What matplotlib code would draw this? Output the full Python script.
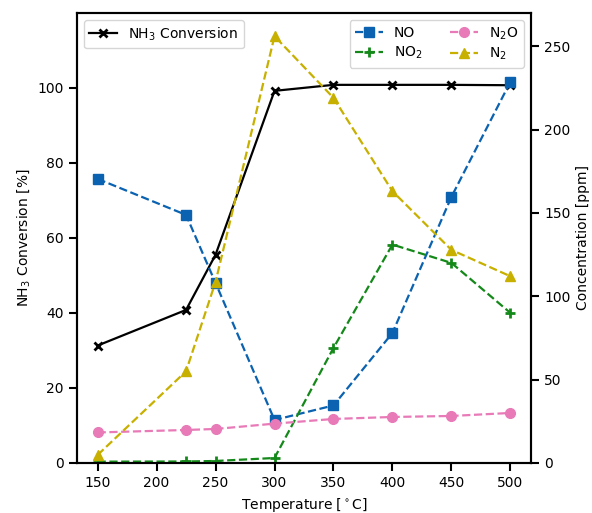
import matplotlib
matplotlib.use("Agg")
import matplotlib.pyplot as plt

temperature = [150, 225, 250, 300, 350, 400, 450, 500]
nh3_conversion = [31.3, 40.8, 55.5, 99.2, 100.8, 100.8, 100.8, 100.7]
no_ppm = [170.4, 148.8, 108.0, 25.8, 34.5, 78.0, 159.6, 228.6]
no2_ppm = [0.8, 0.9, 1.2, 3.0, 69.0, 131.0, 120.0, 90.0]
n2o_ppm = [18.3, 19.8, 20.4, 23.6, 26.4, 27.6, 28.2, 30.0]
n2_ppm = [4.8, 55.0, 108.6, 256.0, 219.0, 163.0, 127.8, 112.0]

plt.rcParams['font.family'] = ['DejaVu Sans']
plt.rcParams['font.size'] = 10

fig = plt.figure(figsize=(5.92, 5.13), dpi=100)
ax = fig.add_axes([0.130, 0.0975, 0.767, 0.8775])
ax2 = ax.twinx()

ax.plot(temperature, nh3_conversion, color='black', marker='x', lw=1.6,
        ms=6, mew=2, label=r'NH$_3$ Conversion')
ax.set_ylim(0, 120)
ax.set_yticks([0, 20, 40, 60, 80, 100])
ax.set_xticks([150, 200, 250, 300, 350, 400, 450, 500])
ax.set_xlabel(r'Temperature [$^\circ$C]', fontsize=10)
ax.set_ylabel(r'NH$_3$ Conversion [%]', fontsize=10)

ax2.plot(temperature, no_ppm, color='#0a62b0', ls='--', marker='s', ms=7, lw=1.6, label='NO')
ax2.plot(temperature, no2_ppm, color='#14891a', ls='--', marker='+', ms=7, mew=2, lw=1.6, label=r'NO$_2$')
ax2.plot(temperature, n2o_ppm, color='#e87ab8', ls='--', marker='o', ms=7, lw=1.6, label=r'N$_2$O')
ax2.plot(temperature, n2_ppm, color='#c7b000', ls='--', marker='^', ms=7, lw=1.6, label=r'N$_2$')
ax2.set_ylim(0, 270)
ax2.set_yticks([0, 50, 100, 150, 200, 250])
ax2.set_ylabel('Concentration [ppm]', fontsize=10)

for a in (ax, ax2):
    for s in a.spines.values():
        s.set_linewidth(1.5)
    a.tick_params(width=1.5, length=5.5, pad=4)

ax.legend(loc='upper left', fontsize=10)
ax2.legend(loc='upper right', ncol=2, fontsize=10, labelspacing=0.3)

fig.savefig('out.png', dpi=100)
